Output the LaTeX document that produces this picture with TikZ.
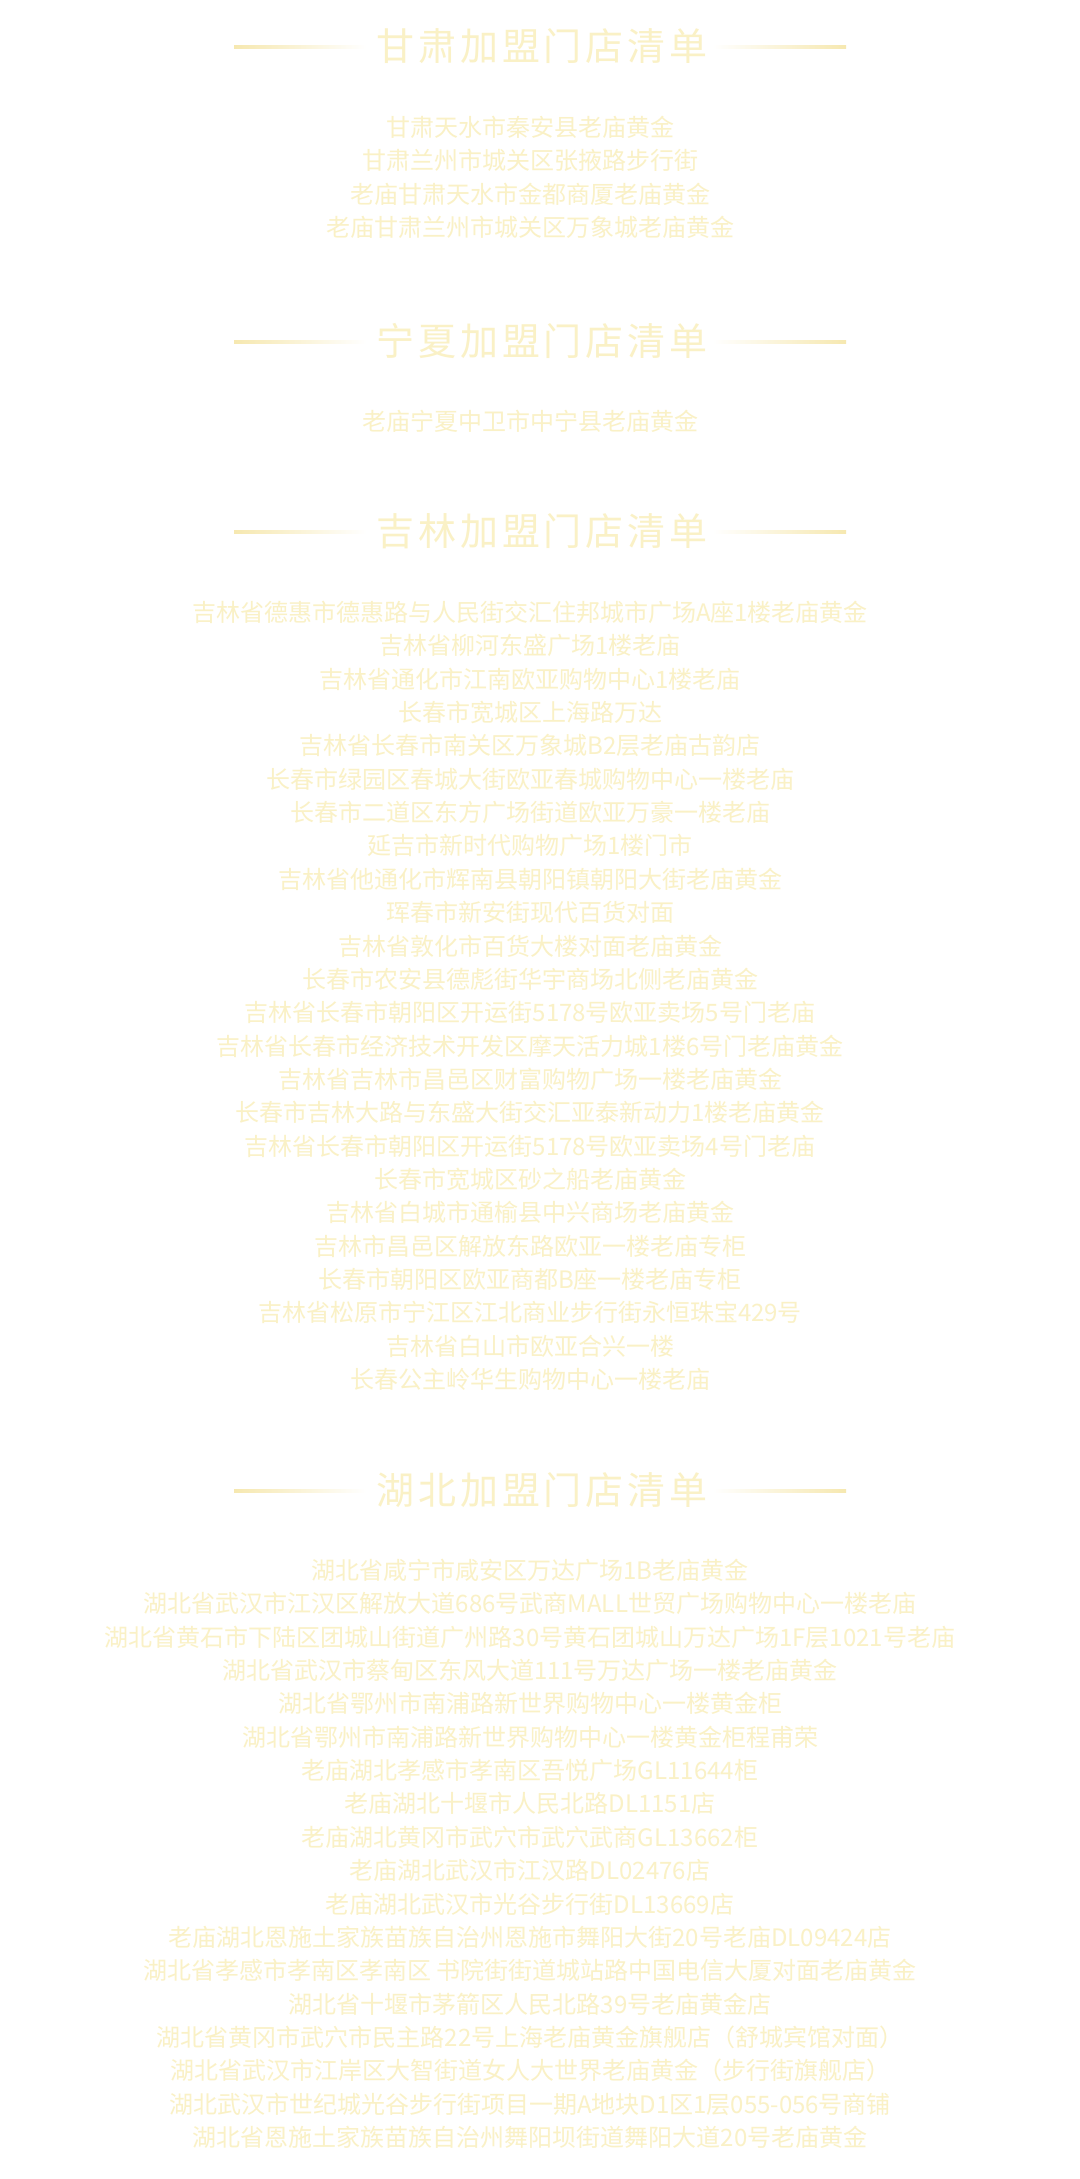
\documentclass[tikz,border=0pt]{standalone}
\usepackage{fontspec}
\usepackage{xcolor}
\usepackage{tikz}
\newfontfamily\cjk{Noto Sans CJK SC}
\newfontfamily\cjkhead[LetterSpace=10]{Noto Sans CJK SC}
\definecolor{bg}{HTML}{FFFFFF}
\definecolor{shoptext}{HTML}{FAF1C6}
\definecolor{rulegold}{HTML}{F6E8B0}
\tikzset{
  shop/.style={text=shoptext, font=\cjk\fontsize{12}{14}\selectfont, inner sep=0pt},
  head/.style={text=shoptext, font=\cjkhead\fontsize{19}{22}\selectfont, inner sep=0pt},
  ruleL/.style={left color=rulegold, right color=bg},
  ruleR/.style={left color=bg, right color=rulegold},
}
\begin{document}
\begin{tikzpicture}[x=0.5pt,y=-0.5pt]
  \useasboundingbox (0,0) rectangle (1080,2179);
  \fill[bg] (0,0) rectangle (1080,2179);

  % Gansu
  \node[head] (tg) at (542,46) {甘肃加盟门店清单};
  \shade[ruleL] (234,45.5) rectangle (366,48.5);
  \shade[ruleR] (713,45.5) rectangle (846,48.5);
  \node[shop] (g1) at (530,127) {甘肃天水市秦安县老庙黄金};
  \node[shop] (g2) at (530,160) {甘肃兰州市城关区张掖路步行街};
  \node[shop] (g3) at (530,194) {老庙甘肃天水市金都商厦老庙黄金};
  \node[shop] (g4) at (530,227) {老庙甘肃兰州市城关区万象城老庙黄金};

  % Ningxia
  \node[head] (tn) at (542,341) {宁夏加盟门店清单};
  \shade[ruleL] (234,340.5) rectangle (366,343.5);
  \shade[ruleR] (713,340.5) rectangle (846,343.5);
  \node[shop] (n1) at (530,421) {老庙宁夏中卫市中宁县老庙黄金};

  % Jilin
  \node[head] (tj) at (542,531) {吉林加盟门店清单};
  \shade[ruleL] (234,530.5) rectangle (366,533.5);
  \shade[ruleR] (713,530.5) rectangle (846,533.5);
  \node[shop] (j1) at (530,612) {吉林省德惠市德惠路与人民街交汇住邦城市广场A座1楼老庙黄金};
  \node[shop] (j2) at (530,645) {吉林省柳河东盛广场1楼老庙};
  \node[shop] (j3) at (530,679) {吉林省通化市江南欧亚购物中心1楼老庙};
  \node[shop] (j4) at (530,712) {长春市宽城区上海路万达};
  \node[shop] (j5) at (530,745) {吉林省长春市南关区万象城B2层老庙古韵店};
  \node[shop] (j6) at (530,779) {长春市绿园区春城大街欧亚春城购物中心一楼老庙};
  \node[shop] (j7) at (530,812) {长春市二道区东方广场街道欧亚万豪一楼老庙};
  \node[shop] (j8) at (530,845) {延吉市新时代购物广场1楼门市};
  \node[shop] (j9) at (530,879) {吉林省他通化市辉南县朝阳镇朝阳大街老庙黄金};
  \node[shop] (j10) at (530,912) {珲春市新安街现代百货对面};
  \node[shop] (j11) at (530,946) {吉林省敦化市百货大楼对面老庙黄金};
  \node[shop] (j12) at (530,979) {长春市农安县德彪街华宇商场北侧老庙黄金};
  \node[shop] (j13) at (530,1012) {吉林省长春市朝阳区开运街5178号欧亚卖场5号门老庙};
  \node[shop] (j14) at (530,1046) {吉林省长春市经济技术开发区摩天活力城1楼6号门老庙黄金};
  \node[shop] (j15) at (530,1079) {吉林省吉林市昌邑区财富购物广场一楼老庙黄金};
  \node[shop] (j16) at (530,1112) {长春市吉林大路与东盛大街交汇亚泰新动力1楼老庙黄金};
  \node[shop] (j17) at (530,1146) {吉林省长春市朝阳区开运街5178号欧亚卖场4号门老庙};
  \node[shop] (j18) at (530,1179) {长春市宽城区砂之船老庙黄金};
  \node[shop] (j19) at (530,1212) {吉林省白城市通榆县中兴商场老庙黄金};
  \node[shop] (j20) at (530,1246) {吉林市昌邑区解放东路欧亚一楼老庙专柜};
  \node[shop] (j21) at (530,1279) {长春市朝阳区欧亚商都B座一楼老庙专柜};
  \node[shop] (j22) at (530,1312) {吉林省松原市宁江区江北商业步行街永恒珠宝429号};
  \node[shop] (j23) at (530,1346) {吉林省白山市欧亚合兴一楼};
  \node[shop] (j24) at (530,1379) {长春公主岭华生购物中心一楼老庙};

  % Hubei
  \node[head] (th) at (542,1490) {湖北加盟门店清单};
  \shade[ruleL] (234,1489.5) rectangle (366,1492.5);
  \shade[ruleR] (713,1489.5) rectangle (846,1492.5);
  \node[shop] (h1) at (530,1570) {湖北省咸宁市咸安区万达广场1B老庙黄金};
  \node[shop] (h2) at (530,1603) {湖北省武汉市江汉区解放大道686号武商MALL世贸广场购物中心一楼老庙};
  \node[shop] (h3) at (530,1637) {湖北省黄石市下陆区团城山街道广州路30号黄石团城山万达广场1F层1021号老庙};
  \node[shop] (h4) at (530,1670) {湖北省武汉市蔡甸区东风大道111号万达广场一楼老庙黄金};
  \node[shop] (h5) at (530,1703) {湖北省鄂州市南浦路新世界购物中心一楼黄金柜};
  \node[shop] (h6) at (530,1737) {湖北省鄂州市南浦路新世界购物中心一楼黄金柜程甫荣};
  \node[shop] (h7) at (530,1770) {老庙湖北孝感市孝南区吾悦广场GL11644柜};
  \node[shop] (h8) at (530,1803) {老庙湖北十堰市人民北路DL1151店};
  \node[shop] (h9) at (530,1837) {老庙湖北黄冈市武穴市武穴武商GL13662柜};
  \node[shop] (h10) at (530,1870) {老庙湖北武汉市江汉路DL02476店};
  \node[shop] (h11) at (530,1904) {老庙湖北武汉市光谷步行街DL13669店};
  \node[shop] (h12) at (530,1937) {老庙湖北恩施土家族苗族自治州恩施市舞阳大街20号老庙DL09424店};
  \node[shop] (h13) at (530,1970) {湖北省孝感市孝南区孝南区 书院街街道城站路中国电信大厦对面老庙黄金};
  \node[shop] (h14) at (530,2004) {湖北省十堰市茅箭区人民北路39号老庙黄金店};
  \node[shop] (h15) at (530,2037) {湖北省黄冈市武穴市民主路22号上海老庙黄金旗舰店（舒城宾馆对面）};
  \node[shop] (h16) at (530,2070) {湖北省武汉市江岸区大智街道女人大世界老庙黄金（步行街旗舰店）};
  \node[shop] (h17) at (530,2104) {湖北武汉市世纪城光谷步行街项目一期A地块D1区1层055-056号商铺};
  \node[shop] (h18) at (530,2137) {湖北省恩施土家族苗族自治州舞阳坝街道舞阳大道20号老庙黄金};
\end{tikzpicture}
\end{document}
